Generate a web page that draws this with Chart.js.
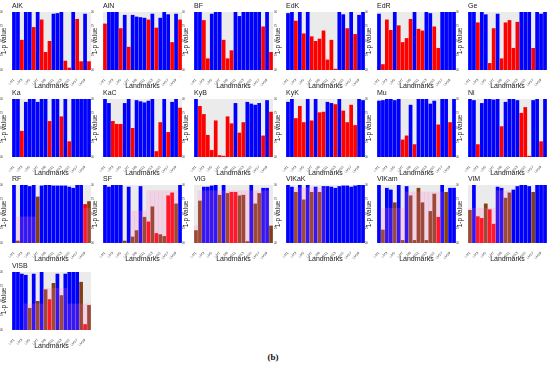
<!DOCTYPE html>
<html>
<head>
<meta charset="utf-8">
<script src="https://cdn.jsdelivr.net/npm/chart.js@4/dist/chart.umd.min.js"></script>
<style>
body { margin: 0; background: #fff; width: 550px; height: 366px; position: relative; overflow: hidden; }
.panel { position: absolute; }
#cap { position: absolute; left: 0; width: 546px; top: 352px; text-align: center; font: bold 9px 'Liberation Serif', serif; color: #111; }
</style>
</head>
<body>
<div id="cap">(b)</div>
<script>
const landmarks = ['LM1','LM2','LM3','LM4','LM5','LM6','LM7','LM8','LM9','LM10',
                   'LM11','LM12','LM13','LM14','LM15','LM16','LM17','LM18','LM19','LM20'];
const yTicks = [0, 0.25, 0.5, 0.75, 1];

// 1-p values per landmark
const valAlK = [1,1,0.52,1,1,0.74,1,0.87,0.31,0.5,0.97,0.98,1,0.16,0.04,1,0.88,0.15,0.97,0.15];
const valAlN = [0.8,1,1,1,0.72,0.95,0.4,0.95,0.92,0.91,0.9,0.87,0.97,0.73,0.9,1,0.96,0.48,0.97,0.87];
const valBF = [1,1,0.86,0.2,0.97,1,1,0.52,0.2,0.34,1,0.93,1,1,1,1,1,0.75,1,0.31];
const valEdK = [0.98,1,0.85,1,0.63,1,0.58,0.5,0.54,0.68,0.18,0.52,0.02,1,0.96,0.72,1,0.62,0.95,1];
const valEdR = [0.97,0.1,0.87,0.69,1,0.77,0.48,0.55,0.88,1,0.71,0.68,1,0.98,0.75,0.38,1,1,1,1];
const valGe = [1,1,0.82,1,0.96,0.12,0.72,0.97,0.2,0.82,0.86,0.38,0.83,1,1,1,0.38,1,0.97,1];
const valKa = [1,1,0.45,0.95,1,1,0.95,1,1,0.62,1,1,0.7,1,0.27,1,1,1,1,1];
const valKaC = [1,0.93,0.62,0.57,0.57,0.93,1,0.5,0.98,0.96,0.94,0.97,1,0.1,0.6,1,0.43,0.95,1,0.85];
const valKyB = [1,0.88,0.74,0.38,0.12,0.63,0.03,0.02,0.7,0.58,0.93,0.42,0.6,0.95,0.92,0.9,0.93,0.37,0.98,0.78];
const valKyK = [0.95,1,0.67,0.88,0.6,1,0.63,1,0.77,0.78,0.95,0.93,0.91,1,0.8,0.6,0.9,0.55,1,0.98];
const valMu = [0.97,0.98,1,1,0.98,1,0.3,0.37,0.9,0.22,1,1,1,0.92,0.97,0.56,1,1,0.6,1];
const valNi = [1,0.98,0.22,0.93,1,1,0.99,1,0.53,0.95,1,1,0.98,0.76,0.86,0.02,0.98,1,0.27,1];
const valRF = [1,0.04,1,1,0.98,1,0.8,0.99,1,1,0.99,0.99,0.99,0.99,0.97,0.95,1,1,0.67,0.72];
const valSF = [1,0.97,1,1,1,0.04,0.97,0.11,0.22,0.98,0.45,0.37,0.63,0.17,0.15,0.12,0.82,0.87,0.68,1];
const valVlG = [0.22,0.73,0.97,0.97,0.99,1,0.83,1,0.86,0.88,0.88,0.82,0.83,0.03,1,0.68,0.86,0.95,0.95,0.3];
const valVlKaK = [1,0.97,0.88,1,0.75,1,0.88,0.97,0.88,0.98,0.98,0.97,0.95,0.98,0.99,0.99,0.97,0.99,1,1];
const valVlKam = [1,0.23,0.95,0.92,0.7,1,0.05,0.98,0.82,0.05,0.95,0.7,0.05,0.55,0.85,0.45,1,0.88,0.95,0.95];
const valVlM = [0.57,1,0.46,0.43,0.68,0.58,0.33,0.97,0.95,0.78,0.87,0.92,0.98,1,1,0.98,0.88,1,1,1];
const valVlSB = [1,1,0.97,0.95,0.38,0.97,0.5,1,0.7,0.53,0.81,0.97,0.6,0.97,1,1,1,0.83,0.1,0.43];

// group of each bar: B = significant, R = not significant, O = overlapped
const grpAlK = 'BBRBBRBRRRBBBRRBRRBR';
const grpAlN = 'RBBBRBRBBBBRBRBBBRBR';
const grpBF = 'BBRRBBBRRRBBBBBBBRBR';
const grpEdK = 'BBRBRBRRRRRRRBBRBRBB';
const grpEdR = 'BRRRBRRRRBRRBBRRBBBB';
const grpGe = 'BBRBBRRBRRRRRBBBRBBB';
const grpKa = 'BBRBBBBBBRBBRBRBBBBB';
const grpKaC = 'BBRRRBBRBBBBBRRBRBBR';
const grpKyB = 'BRRRRRRRRRBRRBBBBRBR';
const grpKyK = 'BBRRRBRBRRBBRBRRRRBB';
const grpMu = 'BBBBBBRRBRBBBBBRBBRB';
const grpNi = 'BBRBBBBBRBBBBRRRBBRB';
const grpRF = 'BOBBBBOBBBBBBBBBBBRO';
const grpSF = 'BBBBBOBOOBOROROORROB';
const grpVlG = 'OOBBBBOBORROOOBOOBBO';
const grpVlKaK = 'BBOBOBOBOBBBBBBBBBBB';
const grpVlKam = 'BOBBOBOBOOOOOOORBOBB';
const grpVlM = 'OBRRORRBBOOBBBBBOBBB';
const grpVlSB = 'BBBBOBOBOROBOBBBBORO';

// highlighted (pink) band heights in the lower panels
const pinkRF = [0,0.45,0.45,0.45,0.45,0.45,0,0,0,0,0,0,0,0,0,0,0,0,0.6,0.6];
const pinkSF = [0,0,0,0,0,0,0,0.55,0.55,0.55,0.55,0.9,0.9,0.9,0.9,0.9,0.9,0.9,0.9,0];
const pinkVlG = [0.3,0.9,0.9,0.9,0.9,0.9,0.9,0.9,0.9,0.9,0.9,0.9,0.9,0.9,0.9,0.9,0.9,0.9,0.9,0];
const pinkVlKaK = [0,0,0.95,0.95,0.95,0.95,0.95,0.95,0.95,0.95,0,0,0,0,0,0,0,0,0,0];
const pinkVlKam = [0,0.6,0.6,0.6,0.6,0.6,0.6,0.88,0.88,0.88,0.88,0.88,0.88,0.88,0.88,0.88,0.88,0,0,0];
const pinkVlM = [0.6,0.6,0.6,0.6,0.6,0.6,0.6,0.9,0.9,0.9,0.9,0,0,0,0,0,0,0,0,0];
const pinkVlSB = [0,0,0,0.45,0.45,0.45,0.45,0.45,0.72,0.72,0.72,0.72,0.72,0.72,0.45,0.45,0.45,0.45,0.45,0.45];

const panels = [
    ['AlK', valAlK, grpAlK, null], ['AlN', valAlN, grpAlN, null], ['BF', valBF, grpBF, null],
    ['EdK', valEdK, grpEdK, null], ['EdR', valEdR, grpEdR, null], ['Ge', valGe, grpGe, null],
    ['Ka', valKa, grpKa, null], ['KaC', valKaC, grpKaC, null], ['KyB', valKyB, grpKyB, null],
    ['KyK', valKyK, grpKyK, null], ['Mu', valMu, grpMu, null], ['Ni', valNi, grpNi, null],
    ['RF', valRF, grpRF, pinkRF], ['SF', valSF, grpSF, pinkSF], ['VlG', valVlG, grpVlG, pinkVlG],
    ['VlKaK', valVlKaK, grpVlKaK, pinkVlKaK], ['VlKam', valVlKam, grpVlKam, pinkVlKam], ['VlM', valVlM, grpVlM, pinkVlM],
    ['VlSB', valVlSB, grpVlSB, pinkVlSB]
];

const colors = { B: '#0000ff', R: '#ff0000', O: '#843f12' };

const panelBox = {
    id: 'panelBox',
    beforeDraw(chart) {
        const { ctx, chartArea: a } = chart;
        ctx.save();
        ctx.fillStyle = '#ebebeb';
        ctx.fillRect(a.left, a.top, a.right - a.left, a.bottom - a.top);
        ctx.fillStyle = '#1a1a1a';
        ctx.font = '7px "Liberation Sans", Arial, sans-serif';
        ctx.textBaseline = 'bottom';
        ctx.fillText(chart.options.plugins.panelBox.text, a.left, a.top - 2);
        ctx.restore();
    }
};

panels.forEach((p, i) => {
    const [name, values, groups, pink] = p;
    const col = i % 6, row = Math.floor(i / 6);
    const canvas = document.createElement('canvas');
    canvas.className = 'panel';
    canvas.width = 92;
    canvas.height = 90;
    canvas.style.left = Math.round(col * 91.2) + 'px';
    canvas.style.top = Math.round(row * 86.5) + 'px';
    document.body.appendChild(canvas);

    const datasets = [{
        data: values,
        backgroundColor: groups.split('').map(g => colors[g]),
        barPercentage: 0.94,
        categoryPercentage: 1,
        grouped: false,
        order: 2
    }];
    if (pink) {
        datasets.push({
            data: pink,
            backgroundColor: 'rgba(255, 120, 200, 0.2)',
            barPercentage: 1,
            categoryPercentage: 1,
            grouped: false,
            order: 1
        });
    }

    new Chart(canvas.getContext('2d'), {
        type: 'bar',
        data: { labels: landmarks, datasets: datasets },
        options: {
            responsive: false,
            animation: false,
            layout: { padding: { top: 12, right: 1, left: 0, bottom: 0 } },
            plugins: {
                legend: { display: false },
                tooltip: { enabled: false },
                panelBox: { text: name }
            },
            scales: {
                x: {
                    offset: true,
                    grid: { display: false },
                    border: { display: false },
                    ticks: {
                        autoSkip: false,
                        minRotation: 45,
                        maxRotation: 45,
                        padding: 0,
                        color: '#444',
                        font: { size: 3.5 },
                        callback: (v, idx) => idx % 2 === 0 ? landmarks[idx] : ''
                    },
                    title: { display: true, text: 'Landmarks', color: '#222', font: { size: 7 }, padding: 0 },
                    afterFit: s => { s.height = 20; }
                },
                y: {
                    min: 0,
                    max: 1,
                    grid: { display: false },
                    border: { display: false },
                    afterBuildTicks: s => { s.ticks = yTicks.map(v => ({ value: v })); },
                    ticks: {
                        padding: 1,
                        color: '#444',
                        font: { size: 3 },
                        callback: v => v.toFixed(2)
                    },
                    title: { display: true, text: '1-p value', color: '#222', font: { size: 6.5 }, padding: 0 },
                    afterFit: s => { s.width = 12; }
                }
            }
        },
        plugins: [panelBox]
    });
});
</script>
</body>
</html>
